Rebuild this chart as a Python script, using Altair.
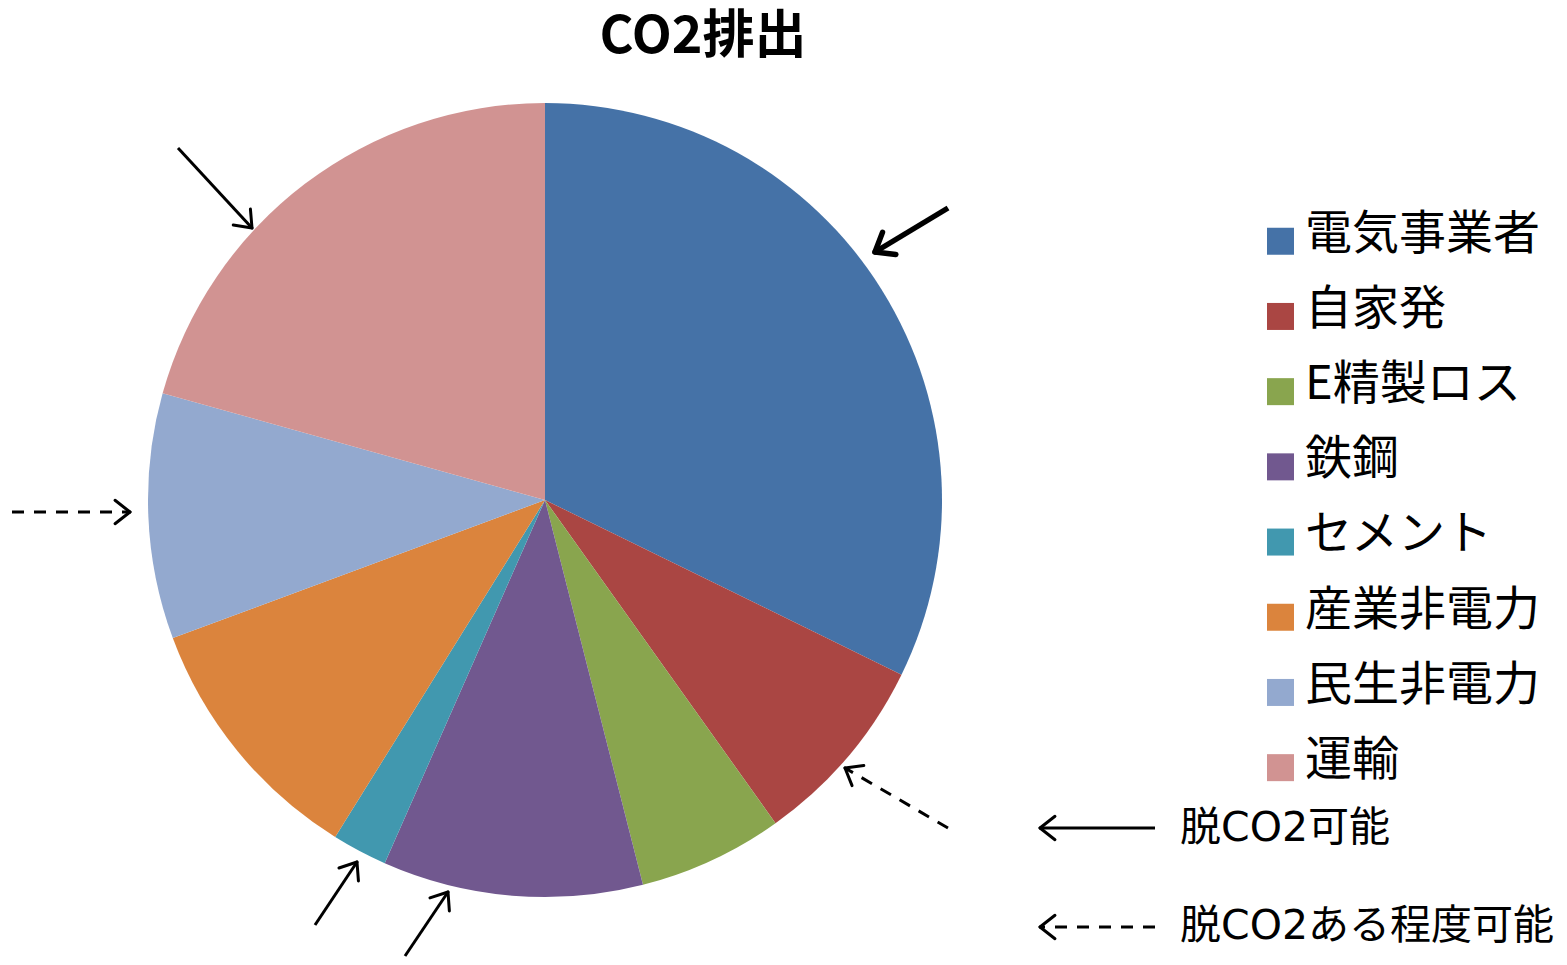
import math
import altair as alt
import pandas as pd

# ---- data ----
categories = ["電気事業者", "自家発", "E精製ロス", "鉄鋼", "セメント", "産業非電力", "民生非電力", "運輸"]
values = [32.3, 7.9, 5.9, 10.6, 2.25, 10.5, 10.0, 20.7]
colors = ["#4572A7", "#AA4643", "#89A54E", "#71588F", "#4198AF", "#DB843D", "#93A9CF", "#D19392"]

# annotation arrows (tail -> tip), in picture coordinates
arrow_x1 = [948, 178, 315, 405, 12, 948, 1155, 1155]
arrow_y1 = [208, 148, 925, 956, 512, 828, 828, 927]
arrow_x2 = [875, 252, 357, 448, 130, 845, 1040, 1040]
arrow_y2 = [252, 228, 862, 892, 512, 768, 828, 927]
arrow_dashed = [False, False, False, False, True, True, False, True]
arrow_bold = [True, False, False, False, False, False, False, False]

note_texts = ["脱CO2可能", "脱CO2ある程度可能"]
note_x = [1180, 1180]
note_y = [829, 927]

title_text = "CO2排出"

FONT = "Noto Sans CJK JP"
FONT_MIX = "'DejaVu Sans', 'Noto Sans CJK JP'"
W, H = 1551, 949
xs = alt.Scale(domain=[8, 8 + W], nice=False, zero=False)
ys = alt.Scale(domain=[8 + H, 8], nice=False, zero=False)

# square symbol drawn slightly below the label's centre line
SQUARE_LOW = "M-1,-0.5L1,-0.5L1,1.5L-1,1.5Z"

# ---- pie ----
pie_df = pd.DataFrame({"cat": categories, "val": values, "idx": list(range(len(categories)))})
pie = alt.Chart(pie_df).mark_arc(radius=397).encode(
    theta=alt.Theta("val:Q", stack=True),
    order=alt.Order("idx:Q"),
    x=alt.value(545 - 8),
    y=alt.value(500 - 8),
    color=alt.Color(
        "cat:N",
        sort=categories,
        scale=alt.Scale(domain=categories, range=colors),
        legend=alt.Legend(
            title=None, orient="none", legendX=1249, legendY=203,
            symbolType=SQUARE_LOW, symbolSize=729, symbolStrokeWidth=0,
            labelFontSize=47, labelFont=FONT, labelColor="black",
            rowPadding=27.2, labelOffset=1, labelLimit=500, padding=0,
        ),
    ),
)

# ---- arrows ----
shafts = pd.DataFrame({
    "x": arrow_x1, "y": arrow_y1, "x2": arrow_x2, "y2": arrow_y2,
    "dashed": arrow_dashed, "bold": arrow_bold,
})
heads = []
for x1, y1, x2, y2, b in zip(arrow_x1, arrow_y1, arrow_x2, arrow_y2, arrow_bold):
    L = math.hypot(x2 - x1, y2 - y1)
    ux, uy = (x1 - x2) / L, (y1 - y2) / L
    hl = 21 if b else 19
    for a in (math.radians(38), -math.radians(38)):
        rx = ux * math.cos(a) - uy * math.sin(a)
        ry = ux * math.sin(a) + uy * math.cos(a)
        heads.append({"x": x2, "y": y2, "x2": x2 + hl * rx, "y2": y2 + hl * ry, "bold": b})
heads_df = pd.DataFrame(heads)


def rule_layer(df, width, dash=None, cap="butt"):
    kw = dict(color="black", strokeWidth=width, strokeCap=cap)
    if dash:
        kw["strokeDash"] = dash
    return alt.Chart(df).mark_rule(**kw).encode(
        x=alt.X("x:Q", scale=xs, axis=None),
        y=alt.Y("y:Q", scale=ys, axis=None),
        x2="x2:Q",
        y2="y2:Q",
    )


solid_thin = rule_layer(shafts[(~shafts.dashed) & (~shafts.bold)], 3)
solid_bold = rule_layer(shafts[shafts.bold], 5.5)
dashed = rule_layer(shafts[shafts.dashed], 3, dash=[12, 10])
heads_thin = rule_layer(heads_df[~heads_df.bold], 3, cap="round")
heads_bold = rule_layer(heads_df[heads_df.bold], 5.5, cap="round")

notes_df = pd.DataFrame({"t": note_texts, "x": note_x, "y": note_y})
notes = alt.Chart(notes_df).mark_text(
    align="left", baseline="middle", fontSize=41, font=FONT_MIX, color="black"
).encode(
    x=alt.X("x:Q", scale=xs, axis=None),
    y=alt.Y("y:Q", scale=ys, axis=None),
    text="t:N",
)

title = alt.Chart(pd.DataFrame({"t": [title_text]})).mark_text(
    align="center", baseline="middle", fontSize=52, fontWeight="bold", font=FONT, color="black"
).encode(x=alt.value(703 - 8), y=alt.value(37 - 8), text="t:N")

chart = alt.layer(
    pie, solid_thin, solid_bold, dashed, heads_thin, heads_bold, notes, title
).properties(
    width=W, height=H, padding=0, autosize=alt.AutoSizeParams(type="none"),
    background="white",
).configure_view(stroke=None)

chart.save("out.html", embed_options={"renderer": "svg", "actions": False})
